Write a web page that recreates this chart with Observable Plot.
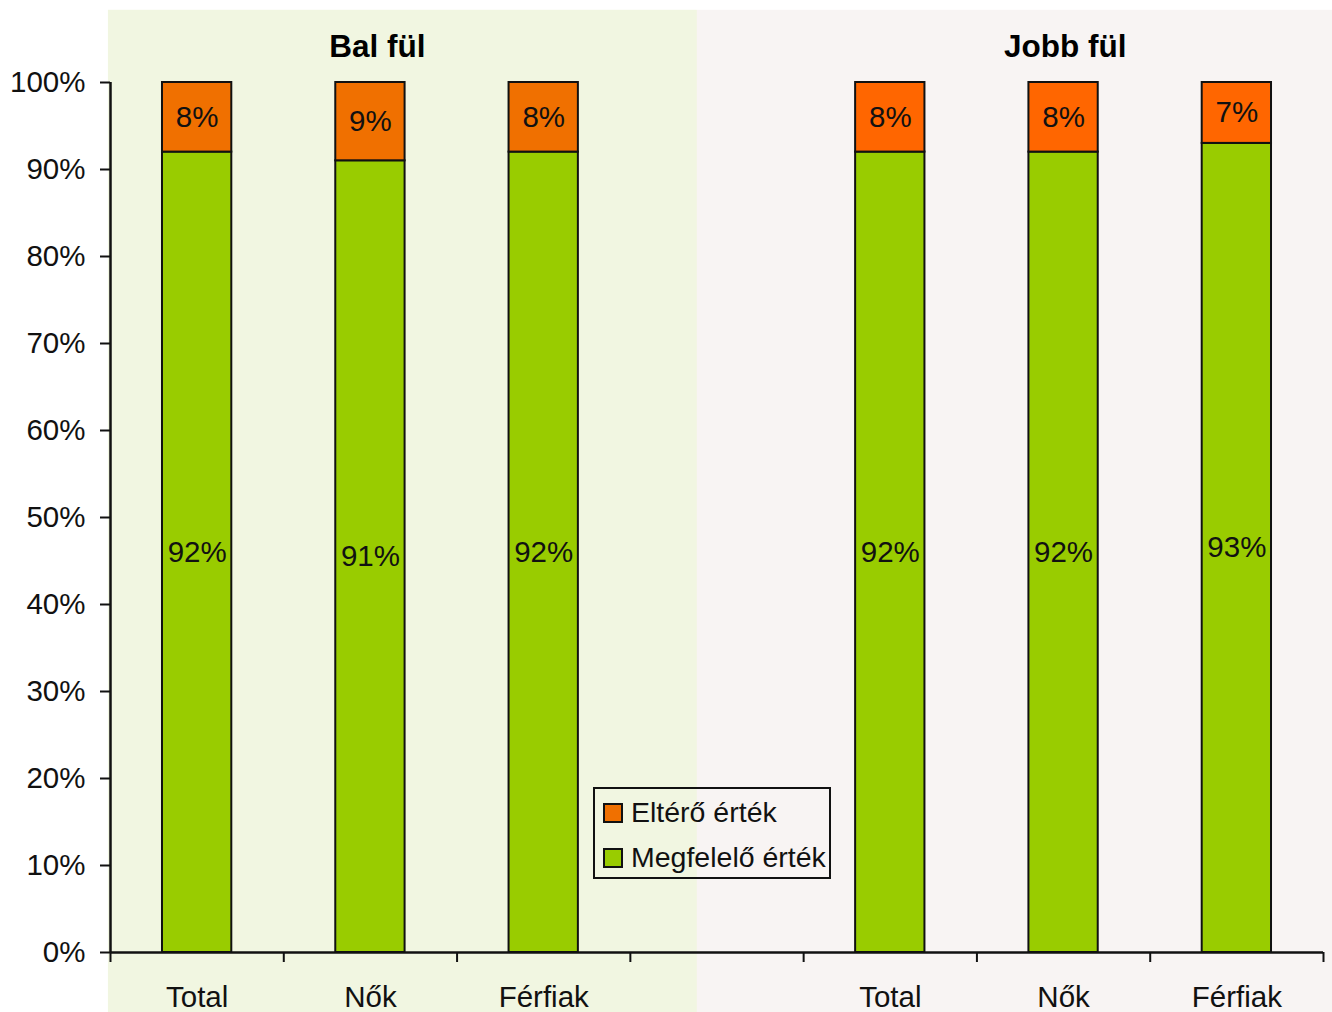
<!DOCTYPE html>
<html>
<head>
<meta charset="utf-8">
<script src="https://cdn.jsdelivr.net/npm/d3@7"></script>
<script src="https://cdn.jsdelivr.net/npm/@observablehq/plot@0.6"></script>
<style>
  body { margin: 0; background: #fff; font-family: "Liberation Sans", Arial, sans-serif; }
  #wrap { position: relative; width: 1332px; height: 1012px; }
  #legend { position: absolute; left: 593px; top: 787px; width: 234px; height: 88px;
            border: 2px solid #111; box-sizing: content-box; font-size: 28.5px; color: #111; }
  .item { position: absolute; left: 8px; display: flex; align-items: center; white-space: nowrap; }
  .sw { width: 16px; height: 16px; border: 2px solid #111; margin-right: 8px; }
</style>
</head>
<body>
<div id="wrap"></div>
<script>
// ---- data ----
const sides = ["Bal fül", "Jobb fül"];
const groups = ["Total", "Nők", "Férfiak"];
const megfelelo = [[92, 91, 92], [92, 92, 93]]; // Megfelelő érték (%)
const eltero = [[8, 9, 8], [8, 8, 7]];          // Eltérő érték (%)
const seriesNames = ["Megfelelő érték", "Eltérő érték"];
const yTicks = [0, 10, 20, 30, 40, 50, 60, 70, 80, 90, 100];

// ---- styles ----
const green = "#99CC00";
const orangeLeft = "#F07000";
const orangeRight = "#FF6600";
const panelLeft = "#F1F6E1";
const panelRight = "#F8F4F3";
const ink = "#111";
const fontSize = 29.5;

// slots: 7 equal bands, left side uses 0..2, right side 4..6
const rows = [];
sides.forEach((side, s) => {
  groups.forEach((g, j) => {
    const slot = s === 0 ? j : 4 + j;
    const a = megfelelo[s][j], b = eltero[s][j];
    rows.push({side, s, group: g, slot, series: seriesNames[0], value: a, y1: 0, y2: a});
    rows.push({side, s, group: g, slot, series: seriesNames[1], value: b, y1: a, y2: a + b});
  });
});

const panels = [
  {x1: -0.012, x2: 3.387, fill: panelLeft},
  {x1: 3.387, x2: 7.06, fill: panelRight}
];
const titles = [{x: 1.54, text: sides[0]}, {x: 5.51, text: sides[1]}];

const fillOf = d => d.series === seriesNames[0] ? green : (d.s === 0 ? orangeLeft : orangeRight);

const chart = Plot.plot({
  width: 1332,
  height: 1012,
  marginLeft: 110,
  marginRight: 9,
  marginTop: 82,
  marginBottom: 60,
  style: {fontFamily: "'Liberation Sans', Arial, sans-serif", background: "transparent"},
  x: {type: "linear", domain: [0, 7], axis: null},
  y: {domain: [0, 100], axis: null},
  marks: [
    Plot.rect(panels, {x1: "x1", x2: "x2", y1: -6.95, y2: 108.3, fill: "fill"}),
    Plot.rect(rows, {
      x1: d => d.slot + 0.3, x2: d => d.slot + 0.7, y1: "y1", y2: "y2",
      fill: fillOf, stroke: ink, strokeWidth: 2
    }),
    Plot.text(rows, {
      x: d => d.slot + 0.5, y: d => (d.y1 + d.y2) / 2,
      text: d => d.value + "%", fontSize, fill: ink
    }),
    Plot.text(titles, {x: "x", y: 104.1, text: "text", fontSize: 31.5, fontWeight: "bold", fill: "#000"}),
    Plot.text(rows.filter(d => d.series === seriesNames[0]), {
      x: d => d.slot + 0.5, y: 0, dy: 45, text: "group", fontSize, fill: ink
    }),
    Plot.axisY({ticks: yTicks, tickSize: 10, tickPadding: 15, tickFormat: d => d + "%",
      fontSize, color: ink, strokeWidth: 2}),
    Plot.axisX({ticks: d3.range(0, 8), tickSize: 10, tickFormat: () => "", color: ink, strokeWidth: 2}),
    Plot.ruleY([0], {x1: 0, x2: 7, stroke: ink, strokeWidth: 2.5}),
    Plot.ruleX([0], {y1: 0, y2: 100, stroke: ink, strokeWidth: 2.5})
  ]
});

const wrap = document.getElementById("wrap");
wrap.appendChild(chart);

// legend (overlay, as in the reference)
const legend = document.createElement("div");
legend.id = "legend";
const legendItems = [
  {name: seriesNames[1], color: orangeLeft, top: 7},
  {name: seriesNames[0], color: green, top: 52}
];
legendItems.forEach(it => {
  const row = document.createElement("div");
  row.className = "item";
  row.style.top = it.top + "px";
  const sw = document.createElement("div");
  sw.className = "sw";
  sw.style.background = it.color;
  const tx = document.createElement("span");
  tx.textContent = it.name;
  row.appendChild(sw);
  row.appendChild(tx);
  legend.appendChild(row);
});
wrap.appendChild(legend);
</script>
</body>
</html>
